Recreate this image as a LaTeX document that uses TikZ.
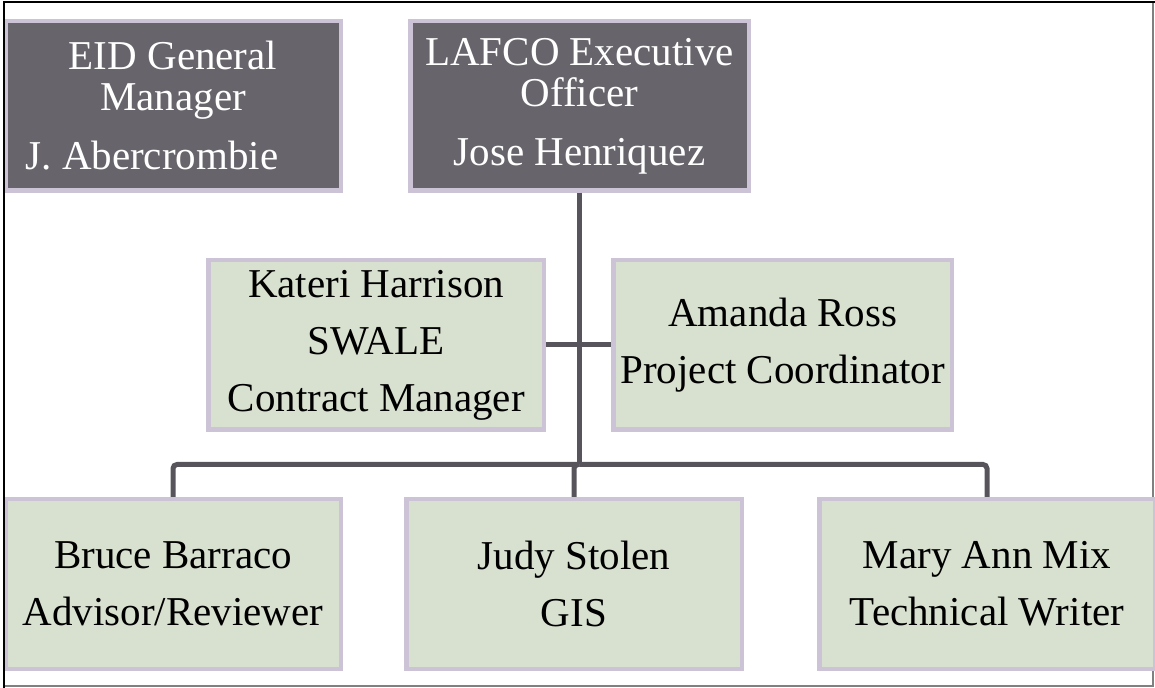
\documentclass[tikz,border=0pt]{standalone}
\usepackage{fontspec}
\setmainfont{Liberation Serif}
\usetikzlibrary{positioning, calc}

\definecolor{slate}{HTML}{67646B}
\definecolor{lilac}{HTML}{CCC4D6}
\definecolor{sage}{HTML}{D8E0CF}
\definecolor{wire}{HTML}{57555B}

\begin{document}
\begin{tikzpicture}[node distance=32.5pt]
	% ----- Styles -----
	\tikzset{
		box/.style={
			rectangle, draw=lilac, line width=2.25pt,
			minimum width=167.75pt, minimum height=84.75pt,
			inner sep=0pt, align=center
		},
		widebox/.style={box, minimum width=169.25pt},
		head/.style={box, fill=slate, text=white, font=\fontsize{20.5}{20.5}\selectfont},
		staff/.style={box, fill=sage, text=black, font=\fontsize{20.5}{28.5}\selectfont},
		conn/.style={draw=wire, line width=2.5pt}
	}
	\useasboundingbox (0,0) rectangle (577.5pt,-344pt);
	% page frame (grey edges)
	\draw[gray, line width=0.6pt] (2pt,-343pt) -- (576.5pt,-343pt) -- (576.5pt,-1pt);
	% ----- Nodes -----
	\node (gm) [head] at (86.5pt,-53pt) {EID General\\Manager\\[9pt]J. Abercrombie\hspace*{21pt}};
	\node (eo) [head, widebox, right=of gm] {LAFCO Executive\\Officer\\[9pt]Jose Henriquez};
	
	\coordinate (top) at ($(gm.south)!.5!(eo.south)$);
	\node (kh) [staff, below=of top] {Kateri Harrison\\SWALE\\Contract Manager};
	\node (ar) [staff, widebox, right=of kh] {Amanda Ross\\Project Coordinator};
	
	\coordinate (b) at (gm |- kh.south);
	\node (bb) [staff, below=of b]          {Bruce Barraco\\Advisor/Reviewer};
	\node (js) [staff, right=30.5pt of bb]  {Judy Stolen\\GIS};
	\node (mm) [staff, right=36.5pt of js]  {Mary Ann Mix\\Technical Writer};
	
	% ----- Connectors -----
	\coordinate (bus) at ($(kh.south)!.5!(bb.north)$);
	\draw[conn] (eo.south) -- (eo.south |- bus);
	\draw[conn] (kh.east) -- (ar.west);
	\foreach \n in {bb, js, mm}{
		\draw[conn, rounded corners=2pt] (eo.south |- bus) -| (\n.north);
	}
	% page frame (black edges)
	\draw[black, line width=1.2pt] (2pt,-344pt) -- (2pt,-1pt) -- (577.5pt,-1pt);
\end{tikzpicture}
\end{document}
